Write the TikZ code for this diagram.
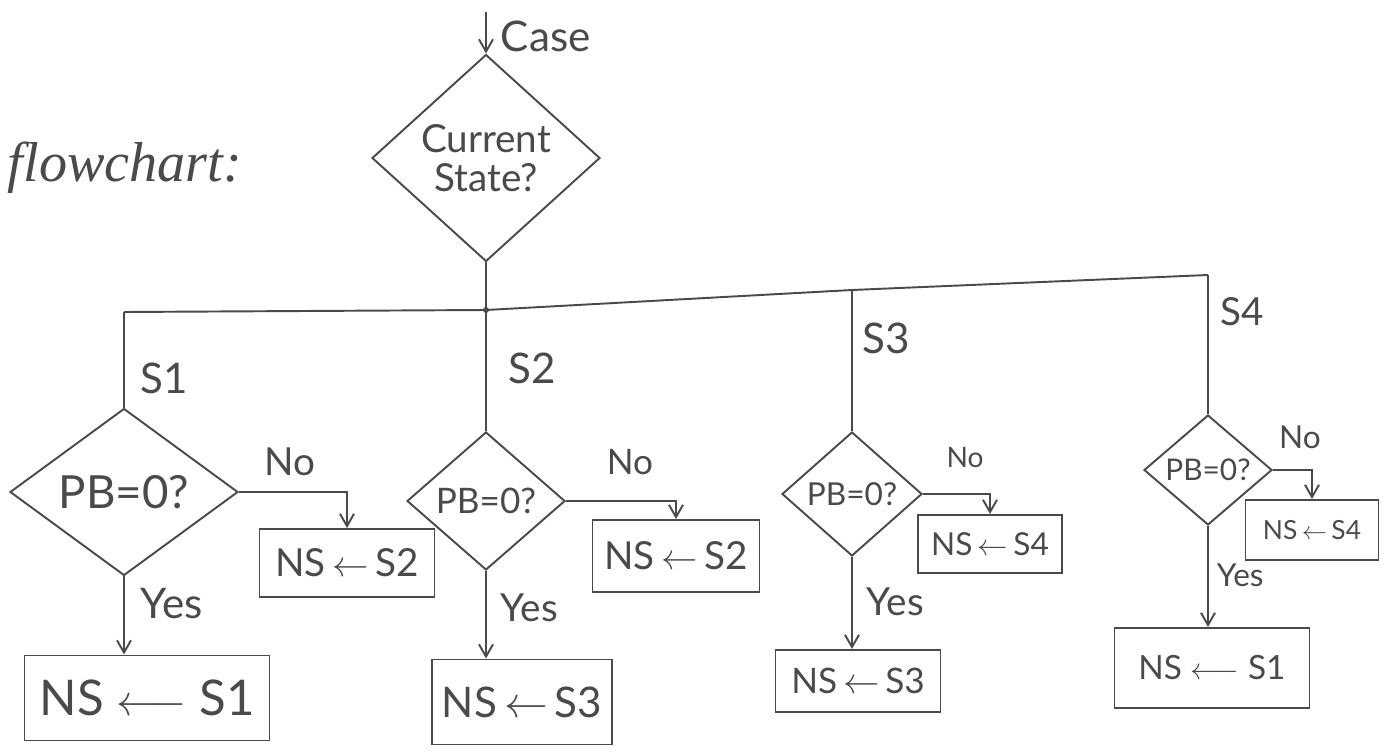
\documentclass[tikz,border=0pt]{standalone}
\usepackage{fontspec}
\setmainfont{Lato}
\newfontfamily\cursivefam{Liberation Serif}
\usetikzlibrary{shapes.geometric,arrows.meta}
\definecolor{ink}{HTML}{4A4A4A}
\newcommand\fsz[1]{\fontsize{#1}{#1}\selectfont}
\def\u{0.02cm}
\begin{document}
\begin{tikzpicture}[x=0.02cm,y=-0.02cm,line width=1.1pt,color=ink,
  wh/.style 2 args={minimum width=#1*\u, minimum height=#2*\u},
  dec/.style={draw, diamond, inner sep=0pt},
  box/.style={draw, rectangle, inner sep=0pt},
  arr/.style={-{Straight Barb[length=7pt,width=8pt]}},
  lab/.style={inner sep=0pt, text=ink},
]
\useasboundingbox (0,0) rectangle (1383,753);

% title
\node[lab, font=\cursivefam\itshape\fsz{32}] (title) at (125,168) {flowchart:};

% main decision
\node[dec, wh={228}{207}, label={[lab, font=\fsz{22}, align=center]center:Current\\State?}] (d0) at (486,158) {};
\coordinate (top) at (486,12);
\draw[arr] (top) -- (d0.north);
\node[lab, font=\fsz{24}, anchor=west] (case) at (500,36) {Case};

% bus
\coordinate (j) at (486,310);
\coordinate (b1) at (124,312);
\coordinate (b3) at (852,290);
\coordinate (b4) at (1208,275);
\draw (d0.south) -- (j);
\draw (b1) -- (j) -- (b3) -- (b4);
\fill (j) circle (3);

% decisions
\node[dec, wh={228}{167}, label={[lab, font=\fsz{26}]center:PB=0?}] (d1) at (124,492) {};
\node[dec, wh={158}{138}, label={[lab, font=\fsz{20}]center:PB=0?}] (d2) at (486,501) {};
\node[dec, wh={140}{124}, label={[lab, font=\fsz{18}]center:PB=0?}] (d3) at (852,494) {};
\node[dec, wh={128}{110}, label={[lab, font=\fsz{17}]center:PB=0?}] (d4) at (1208,470) {};

\draw (b1) -- (d1.north);
\draw (j) -- (d2.north);
\draw (b3) -- (d3.north);
\draw (b4) -- (d4.north);

% branch labels
\node[lab, font=\fsz{24}, anchor=west] (s1) at (140,378) {S1};
\node[lab, font=\fsz{24}, anchor=west] (s2) at (508,368) {S2};
\node[lab, font=\fsz{24}, anchor=west] (s3) at (862,338) {S3};
\node[lab, font=\fsz{22}, anchor=west] (s4) at (1220,312) {S4};

% result boxes
\node[box, wh={245}{85}, font=\fsz{28}] (y1) at (147,698) {NS $\longleftarrow$ S1};
\node[box, wh={175}{68}, font=\fsz{22}] (n1) at (347,563) {NS\,$\leftarrow$\,S2};
\node[box, wh={180}{85}, font=\fsz{24}] (y2) at (522,702) {NS\,$\leftarrow$\,S3};
\node[box, wh={167}{72}, font=\fsz{22}] (n2) at (676,556) {NS\,$\leftarrow$\,S2};
\node[box, wh={165}{62}, font=\fsz{20}] (y3) at (858,681) {NS\,$\leftarrow$\,S3};
\node[box, wh={144}{58}, font=\fsz{18}] (n3) at (990,544) {NS\,$\leftarrow$\,S4};
\node[box, wh={195}{80}, font=\fsz{19}] (y4) at (1212,668) {NS $\longleftarrow$ S1};
\node[box, wh={133}{60}, font=\fsz{15}] (n4) at (1312,530) {NS\,$\leftarrow$\,S4};

% yes arrows
\draw[arr] (d1.south) -- (d1.south |- y1.north);
\draw[arr] (d2.south) -- (d2.south |- y2.north);
\draw[arr] (d3.south) -- (d3.south |- y3.north);
\draw[arr] (d4.south) -- (d4.south |- y4.north);

% no arrows
\draw[arr] (d1.east) -| (n1.north);
\draw[arr] (d2.east) -| (n2.north);
\draw[arr] (d3.east) -| (n3.north);
\draw[arr] (d4.east) -| (n4.north);

% yes / no labels
\node[lab, font=\fsz{24}, anchor=west] (yes1) at (140,604) {Yes};
\node[lab, font=\fsz{22}, anchor=west] (yes2) at (500,608) {Yes};
\node[lab, font=\fsz{22}, anchor=west] (yes3) at (866,602) {Yes};
\node[lab, font=\fsz{18}, anchor=west] (yes4) at (1216,575) {Yes};
\node[lab, font=\fsz{22}] (no1) at (290,462) {No};
\node[lab, font=\fsz{20}] (no2) at (630,462) {No};
\node[lab, font=\fsz{16}] (no3) at (965,458) {No};
\node[lab, font=\fsz{18}] (no4) at (1300,437) {No};
\end{tikzpicture}
\end{document}
